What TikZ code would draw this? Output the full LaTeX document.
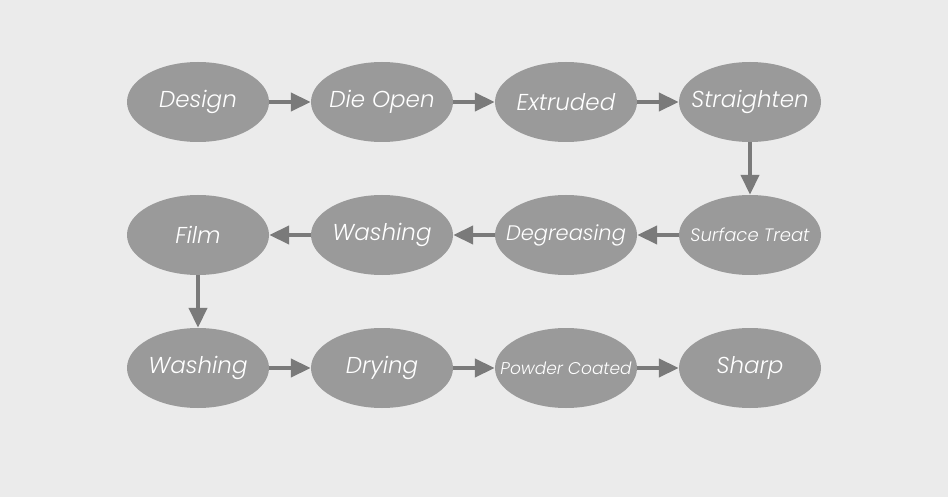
\documentclass[tikz,border=0pt]{standalone}
\usepackage{fontspec}
\setmainfont{Poppins}[UprightFont=* Light, ItalicFont=* Light Italic]
\usetikzlibrary{shapes,arrows.meta}
\definecolor{paper}{RGB}{235,235,235}
\definecolor{stone}{RGB}{154,154,154}
\definecolor{lead}{RGB}{122,122,122}
\tikzstyle{stage} = [ellipse, fill=stone, text=white, minimum width=142pt,
    minimum height=80pt, inner sep=0pt, font=\itshape\fontsize{23}{26}\selectfont,
    execute at begin node={\hbox to 0pt\bgroup\hss}, execute at end node={\hss\egroup}]
\tikzstyle{smallstage} = [stage, font=\itshape\fontsize{18}{21}\selectfont]
\tikzstyle{line} = [draw=lead, line width=4pt, -{Triangle[length=20pt,width=18pt]}]

\begin{document}
\begin{tikzpicture}[x=1pt, y=-1pt, node distance=184pt]
    \fill [paper] (0,0) rectangle (948,497);
    \useasboundingbox (0,0) rectangle (948,497);
    % Place nodes
    \node [stage] (design) at (198,102) {Design};
    \node [stage, right of=design] (dieopen) {Die Open};
    \node [stage, right of=dieopen] (extruded) {Extruded};
    \node [stage, right of=extruded] (straighten) {Straighten};
    \node [smallstage, below of=straighten, node distance=133pt] (surface) {Surface Treat};
    \node [stage, left of=surface, font=\itshape\fontsize{21}{24}\selectfont] (degreasing) {Degreasing};
    \node [stage, left of=degreasing] (washing1) {Washing};
    \node [stage, left of=washing1] (film) {Film};
    \node [stage, below of=film, node distance=133pt] (washing2) {Washing};
    \node [stage, right of=washing2] (drying) {Drying};
    \node [smallstage, right of=drying, font=\itshape\fontsize{17}{20}\selectfont] (powder) {Powder Coated};
    \node [stage, right of=powder] (sharp) {Sharp};
    % Draw edges
    \path [line] (design) -- (dieopen);
    \path [line] (dieopen) -- (extruded);
    \path [line] (extruded) -- (straighten);
    \path [line] (straighten) -- (surface);
    \path [line] (surface) -- (degreasing);
    \path [line] (degreasing) -- (washing1);
    \path [line] (washing1) -- (film);
    \path [line] (film) -- (washing2);
    \path [line] (washing2) -- (drying);
    \path [line] (drying) -- (powder);
    \path [line] (powder) -- (sharp);
\end{tikzpicture}
\end{document}
